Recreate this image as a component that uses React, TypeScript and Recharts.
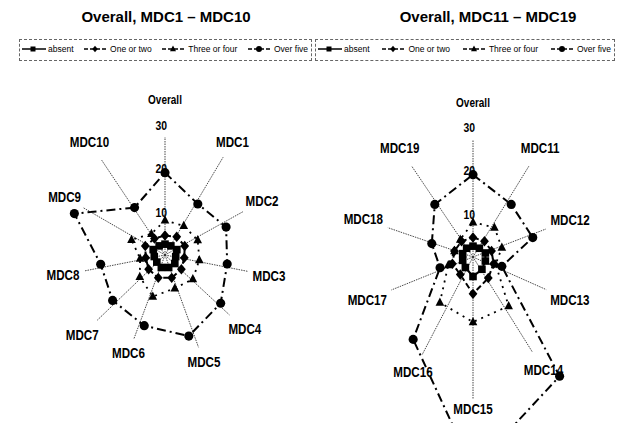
import { RadarChart, Radar, PolarAngleAxis, PolarRadiusAxis, Legend } from 'recharts';

// ---- data ----
const leftAxes = ['Overall', 'MDC1', 'MDC2', 'MDC3', 'MDC4', 'MDC5', 'MDC6', 'MDC7', 'MDC8', 'MDC9', 'MDC10'];
const leftAbsent = [2.5, 2.5, 3, 2.5, 3, 3, 3, 2.5, 2.5, 3, 2.5];
const leftOneTwo = [4.5, 5, 5, 4.5, 5, 5.5, 5.5, 5, 4.5, 5, 4.5];
const leftThreeFour = [8, 8, 8.3, 8, 8.5, 8, 10, 7.7, 5.8, 8.5, 5.8];
const leftOverFive = [19, 14, 15.5, 14.5, 17, 19.5, 17, 16, 15, 23, 13];

const rightAxes = ['Overall', 'MDC11', 'MDC12', 'MDC13', 'MDC14', 'MDC15', 'MDC16', 'MDC17', 'MDC18', 'MDC19'];
const rightAbsent = [2.5, 2.5, 3, 3, 3.5, 4.5, 3, 2.5, 2.5, 2.5];
const rightOneTwo = [4.5, 4.5, 4.5, 5, 6, 8.5, 5, 5, 4.5, 4.5];
const rightThreeFour = [8, 8.4, 7, 5.5, 14, 15, 13, 6, 4.5, 5];
const rightOverFive = [19, 15, 14.5, 7, 34, 49, 23.5, 8, 10, 15];

const radiusTicks = [10, 20, 30];

// ---- layout / style ----
const SANS = "'Liberation Sans', Arial, sans-serif";
// label distance from centre and angular nudge (deg, clockwise) for the callout labels
const leftLabelR = [155, 132, 111, 106, 109, 114, 105, 115, 104, 116, 136];
const leftLabelNudge = [0, -2, -4.5, 3, 2, -3.6, 4, -3, -3, 5.5, -1];
const rightLabelR = [154, 128, 104, 106, 133, 152, 130, 114, 116, 131];
const rightLabelNudge = [0, -4.4, -3, 6, 4, 0, -8.5, -4, 1, 2];

const series = [
  { key: 'absent', name: 'absent', dash: undefined, width: 2, shape: 'square', size: 3.8 },
  { key: 'oneTwo', name: 'One or two', dash: '6 3', width: 2, shape: 'diamond', size: 4 },
  { key: 'threeFour', name: 'Three or four', dash: '2 5', width: 1.8, shape: 'triangle', size: 3.6 },
  { key: 'overFive', name: 'Over five', dash: '9 4 2 4', width: 2, shape: 'circle', size: 3.8 },
];

const marker = (shape: string, x: number, y: number, s: number, key?: any) => {
  if (shape === 'square') return <rect key={key} x={x - s} y={y - s} width={s * 2} height={s * 2} fill="#000" />;
  if (shape === 'diamond')
    return <polygon key={key} points={`${x},${y - s * 1.3} ${x + s * 1.1},${y} ${x},${y + s * 1.3} ${x - s * 1.1},${y}`} fill="#000" />;
  if (shape === 'triangle')
    return <polygon key={key} points={`${x},${y - s * 1.4} ${x + s * 1.2},${y + s * 0.9} ${x - s * 1.2},${y + s * 0.9}`} fill="#000" />;
  return <circle key={key} cx={x} cy={y} r={s * 1.2} fill="#000" />;
};

const makeDot = (shape: string, size: number) => (p: any) => marker(shape, p.cx, p.cy, size, `${shape}-${p.index}`);

const makeAngleTick = (cx: number, cy: number, radii: number[], nudges: number[]) => (props: any) => {
  const { x, y, index, payload } = props;
  const a = Math.atan2(y - cy, x - cx) + (nudges[index] * Math.PI) / 180;
  const ux = Math.cos(a);
  const uy = Math.sin(a);
  const r = radii[index];
  const label = String(payload.value);
  const overall = index === 0;
  const halfW = overall ? 15 : label.length * 4.1;
  const pad = overall ? 37 : Math.abs(ux) * (halfW + 2) + Math.abs(uy) * 8 + 2;
  const er = r - pad;
  const lx = cx + ux * r;
  const ly = cy + uy * r;
  return (
    <g>
      <line x1={cx} y1={cy} x2={cx + ux * er} y2={cy + uy * er} stroke="#333" strokeWidth={0.9} strokeDasharray="1.5 1" />
      <text
        transform={`translate(${lx},${ly}) scale(0.8,1)`}
        x={0}
        y={0}
        textAnchor="middle"
        dominantBaseline="central"
        fontSize={overall ? 12.5 : 14.5}
        fontWeight="bold"
        fontFamily={SANS}
        fill="#000"
      >
        {label}
      </text>
    </g>
  );
};

const radiusTick = (props: any) => {
  if (props.payload.value === 0) return <g />;
  return (
    <text
      transform={`translate(${props.x + 2},${props.y}) scale(0.8,1)`}
      x={0}
      y={0}
      textAnchor="end"
      dominantBaseline="central"
      fontSize={13}
      fontWeight="bold"
      fontFamily={SANS}
      fill="#000"
    >
      {props.payload.value}
    </text>
  );
};

const LegendBox = ({ payload }: any) => {
  const items = series
    .map((s) => ({ s, e: (payload || []).find((p: any) => p.dataKey === s.key) }))
    .filter((d) => d.e);
  return (
    <div
      style={{
        border: '1px dashed #666',
        height: 22,
        boxSizing: 'border-box',
        display: 'flex',
        alignItems: 'center',
        justifyContent: 'space-between',
        padding: '0 3px 2px 2px',
        fontSize: 8.5,
        fontFamily: SANS,
        color: '#000',
      }}
    >
      {items.map(({ s, e }) => (
        <span key={s.key} style={{ display: 'flex', alignItems: 'center', whiteSpace: 'nowrap' }}>
          <svg width={24} height={8} style={{ marginRight: 2 }}>
            <line x1={0} y1={4} x2={24} y2={4} stroke="#000" strokeWidth={1.5} strokeDasharray={s.dash ? '4 2' : undefined} />
            {marker(s.shape, 11, 4, 2.5)}
          </svg>
          {e.value}
        </span>
      ))}
    </div>
  );
};

const buildRows = (axes: string[], a: number[], b: number[], c: number[], d: number[]) =>
  axes.map((axis, i) => ({ axis, absent: a[i], oneTwo: b[i], threeFour: c[i], overFive: d[i] }));

const leftRows = buildRows(leftAxes, leftAbsent, leftOneTwo, leftThreeFour, leftOverFive);
const rightRows = buildRows(rightAxes, rightAbsent, rightOneTwo, rightThreeFour, rightOverFive);

const Panel = ({ rows, cx, cy, radii, nudges, title, titleX, legendLeft, legendWidth }: any) => (
  <div style={{ position: 'relative', width: 310, height: 423 }}>
    <div
      style={{
        position: 'absolute',
        top: 8,
        left: titleX - 150,
        width: 300,
        textAlign: 'center',
        fontFamily: SANS,
        fontWeight: 'bold',
        fontSize: 15,
        zIndex: 2,
      }}
    >
      {title}
    </div>
    <RadarChart width={310} height={423} data={rows} cx={cx} cy={cy} outerRadius={130} margin={{ top: 0, right: 0, bottom: 0, left: 0 }}>
      <PolarAngleAxis dataKey="axis" tick={makeAngleTick(cx, cy, radii, nudges)} tickLine={false} axisLine={false} />
      <PolarRadiusAxis
        angle={90}
        domain={[0, 30]}
        ticks={radiusTicks as any}
        tickCount={4}
        allowDataOverflow
        axisLine={false}
        tickLine={false}
        tick={radiusTick}
      />
      {series.map((s) => (
        <Radar
          key={s.key}
          name={s.name}
          dataKey={s.key}
          stroke="#000"
          strokeWidth={s.width}
          strokeDasharray={s.dash}
          fill="none"
          fillOpacity={0}
          dot={makeDot(s.shape, s.size)}
          isAnimationActive={false}
        />
      ))}
      <Legend
        layout="horizontal"
        verticalAlign="middle"
        align="center"
        content={<LegendBox />}
        wrapperStyle={{ top: 39, left: legendLeft, width: legendWidth, height: 22 }}
      />
    </RadarChart>
  </div>
);

export default function App() {
  return (
    <div style={{ position: 'absolute', left: 0, top: 0, width: 617, height: 423, background: '#fff', display: 'flex', overflow: 'hidden' }}>
      <Panel
        rows={leftRows}
        cx={165}
        cy={255}
        radii={leftLabelR}
        nudges={leftLabelNudge}
        title="Overall, MDC1 – MDC10"
        titleX={166}
        legendLeft={19}
        legendWidth={293}
      />
      <Panel
        rows={rightRows}
        cx={163}
        cy={257}
        radii={rightLabelR}
        nudges={rightLabelNudge}
        title="Overall, MDC11 – MDC19"
        titleX={178}
        legendLeft={5}
        legendWidth={300}
      />
    </div>
  );
}
